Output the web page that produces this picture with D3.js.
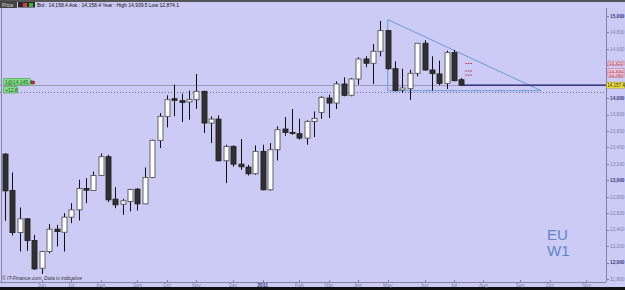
<!DOCTYPE html>
<html>
<head>
<meta charset="utf-8">
<script src="https://cdn.jsdelivr.net/npm/d3@7/dist/d3.min.js"></script>
<style>
  body { margin: 0; background: #cbcbf6; }
  svg { display: block; font-family: "Liberation Sans", Arial, sans-serif; }
</style>
</head>
<body>
<svg id="chart" width="625" height="290"></svg>
<script>
// weekly bars (week starting Monday), EU W1
const weeks = [
  "2010-05-03","2010-05-10","2010-05-17","2010-05-24","2010-05-31",
  "2010-06-07","2010-06-14","2010-06-21","2010-06-28",
  "2010-07-05","2010-07-12","2010-07-19","2010-07-26",
  "2010-08-02","2010-08-09","2010-08-16","2010-08-23","2010-08-30",
  "2010-09-06","2010-09-13","2010-09-20","2010-09-27",
  "2010-10-04","2010-10-11","2010-10-18","2010-10-25",
  "2010-11-01","2010-11-08","2010-11-15","2010-11-22","2010-11-29",
  "2010-12-06","2010-12-13","2010-12-20","2010-12-27",
  "2011-01-03","2011-01-10","2011-01-17","2011-01-24","2011-01-31",
  "2011-02-07","2011-02-14","2011-02-21","2011-02-28",
  "2011-03-07","2011-03-14","2011-03-21","2011-03-28",
  "2011-04-04","2011-04-11","2011-04-18","2011-04-25",
  "2011-05-02","2011-05-09","2011-05-16","2011-05-23","2011-05-30",
  "2011-06-06","2011-06-13","2011-06-20","2011-06-27",
  "2011-07-04","2011-07-11"
];
const opens = [
  13319,12877,12365,12532,12268, 11931,12134,12406,12369, 12552,12641,12901,12877,
  13059,13287,12771,12710,12743, 12893,12714,13035,13486, 13778,13993,13969,13953,
  13981,14082,13697,13745,13238, 13413,13197,13161,13080, 13352,12885,13372,13624,13583,
  13567,13514,13717,13827, 14001,13940,14172,14034, 14233,14476,14424,14570,
  14821,14358,14099,14115,14302, 14667,14342,14294,14180, 14553,14224
];
const highs = [
  13331,13096,12670,12540,12337, 12142,12467,12458,12601, 12722,13007,13027,13108,
  13327,13311,12917,12775,12897, 12905,13157,13494,13819, 14034,14164,14054,14091,
  14294,14091,13778,13790,13433, 13425,13502,13189,13425, 13433,13453,13656,13770,13867,
  13749,13730,13839,14022, 14042,14204,14253,14245, 14497,14509,14659,14939,
  14829,14448,14358,14346,14667, 14704,14509,14456,14578, 14586,14245
];
const lows = [
  12507,12329,12134,12142,11910, 11862,12113,12195,12134, 12479,12511,12722,12872,
  13055,12735,12661,12580,12621, 12633,12710,13027,13392, 13644,13778,13709,13737,
  13871,13575,13453,13230,12966, 13165,13128,13059,13067, 12880,12874,13242,13542,13555,
  13494,13433,13526,13749, 13758,13867,14022,14022, 14164,14375,14172,14509,
  14346,14082,14062,13977,14265, 14334,14091,14156,14111, 14204,14147
];
const closes = [
  12872,12365,12532,12268,11923, 12134,12406,12377,12552, 12641,12901,12880,13059,
  13287,12763,12702,12751,12889, 12714,13035,13486,13778, 13981,13973,13948,13981,
  14082,13697,13745,13238,13413, 13197,13165,13080,13352, 12885,13372,13616,13583,13571,
  13514,13717,13754,14009, 13940,14172,14034,14233, 14476,14424,14570,14821,
  14358,14091,14123,14302,14667, 14342,14298,14180,14553, 14212,14157
];

const monthTicks = [
  "2010-06-07","2010-07-05","2010-08-02","2010-09-06","2010-10-04","2010-11-01","2010-12-06",
  "2011-01-03","2011-02-07","2011-03-07","2011-04-04","2011-05-02","2011-06-06","2011-07-04",
  "2011-08-01","2011-09-05","2011-10-03","2011-11-07"
];
const monthLabels = ["Jun","Jul","Aug","Sep","Oct","Nov","Dec","2011","Feb","Mar","Apr","May","Jun","Jul","Aug","Sep","Oct","Nov"];

const priceTicks = [11800,12000,12200,12400,12600,12800,13000,13200,13400,13600,13800,14000,14200,14400,14600,14800,15000];
const majorTicks = [12000,13000,14000,15000];

const bid = 14157.4;
const orderPrice = 14145.4;
const orderLabel = "1@14,145.4";
const orderPnl = "+12.8";
const dottedLevel = 14080;
const pendingLevels = [14422, 14330, 14280];
const triangle = [["2011-05-02",14955],["2011-05-02",14090],["2011-09-25",14090]];
const header = "Bid : 14,158.4  Ask : 14,158.4   Year : High 14,939.5  Low 12,874.1";

const parse = d3.timeParse("%Y-%m-%d");
const fmt = d3.format(",");

const svg = d3.select("#chart");
const plotRight = 606, plotBottom = 282, plotTop = 8;

const x = d3.scaleTime()
    .domain([parse("2010-05-03"), parse("2011-11-21")])
    .range([5, 5 + 81 * 7.36]);
const y = d3.scaleLinear()
    .domain([11800, 15000])
    .range([279, 15.9]);

const bars = weeks.map((w, i) => ({
  date: parse(w), o: opens[i], h: highs[i], l: lows[i], c: closes[i]
}));

// frame
svg.append("rect").attr("x", 0).attr("y", 0).attr("width", 625).attr("height", 290).attr("fill", "#cbcbf6");
svg.append("rect").attr("x", 0).attr("y", 0).attr("width", 625).attr("height", 2).attr("fill", "#555");
svg.append("rect").attr("x", 0).attr("y", 287).attr("width", 625).attr("height", 3).attr("fill", "#111");
svg.append("line").attr("x1", 1.5).attr("x2", 1.5).attr("y1", 2).attr("y2", plotBottom)
    .attr("stroke", "#8888aa").attr("stroke-width", 1);

// right price axis
svg.append("line").attr("x1", plotRight + 0.5).attr("x2", plotRight + 0.5)
    .attr("y1", plotTop).attr("y2", plotBottom).attr("stroke", "#8080a8");
const yAxis = svg.append("g");
yAxis.selectAll("line").data(priceTicks).enter().append("line")
    .attr("x1", plotRight).attr("x2", plotRight + 3)
    .attr("y1", d => Math.round(y(d)) + 0.5).attr("y2", d => Math.round(y(d)) + 0.5)
    .attr("stroke", "#8080a8");
// labels hidden behind the price boxes are left out
const boxed = pendingLevels.concat([bid]);
const visibleTicks = priceTicks.filter(t => !boxed.some(b => Math.abs(y(b) - y(t)) < 4.5));
yAxis.selectAll("text").data(visibleTicks).enter().append("text")
    .attr("x", plotRight + 4).attr("y", d => y(d) + 1.8)
    .attr("font-size", 5)
    .attr("textLength", 14.5).attr("lengthAdjust", "spacingAndGlyphs")
    .attr("font-weight", d => majorTicks.includes(d) ? "bold" : "normal")
    .attr("fill", d => majorTicks.includes(d) ? "#3a3a7a" : "#8080aa")
    .text(d => fmt(d));

// bottom time axis
svg.append("line").attr("x1", 0).attr("x2", plotRight)
    .attr("y1", plotBottom + 0.5).attr("y2", plotBottom + 0.5).attr("stroke", "#8080a8");
const xAxis = svg.append("g");
xAxis.selectAll("line").data(monthTicks).enter().append("line")
    .attr("x1", d => Math.round(x(parse(d))) + 0.5).attr("x2", d => Math.round(x(parse(d))) + 0.5)
    .attr("y1", plotBottom - 2).attr("y2", plotBottom + 1).attr("stroke", "#8080a8");
xAxis.selectAll("text").data(monthTicks).enter().append("text")
    .attr("x", d => x(parse(d))).attr("y", 286.6)
    .attr("text-anchor", "middle").attr("font-size", 5)
    .attr("font-weight", (d, i) => monthLabels[i] === "2011" ? "bold" : "normal")
    .attr("fill", (d, i) => monthLabels[i] === "2011" ? "#3a3a7a" : "#8080aa")
    .text((d, i) => monthLabels[i]);

// level lines
svg.append("line").attr("x1", 0).attr("x2", plotRight)
    .attr("y1", Math.round(y(orderPrice)) - 0.5).attr("y2", Math.round(y(orderPrice)) - 0.5)
    .attr("stroke", "#9a9ab8").attr("stroke-width", 1);
svg.append("line").attr("x1", 0).attr("x2", plotRight)
    .attr("y1", Math.round(y(dottedLevel)) + 0.5).attr("y2", Math.round(y(dottedLevel)) + 0.5)
    .attr("stroke", "#7070a0").attr("stroke-width", 1).attr("stroke-dasharray", "1,2");

// triangle
svg.append("path")
    .attr("d", d3.line().x(d => x(parse(d[0]))).y(d => y(d[1]))(triangle) + "Z")
    .attr("fill", "none").attr("stroke", "#6a9ad8").attr("stroke-width", 1);

// candles
const last = bars[bars.length - 1];
svg.append("line").attr("x1", x(last.date) + 2).attr("x2", plotRight)
    .attr("y1", y(bid)).attr("y2", y(bid))
    .attr("stroke", "#1a1a70").attr("stroke-width", 1.3);

const candles = svg.append("g").selectAll("g").data(bars).enter().append("g");
candles.append("line")
    .attr("x1", d => Math.round(x(d.date)) + 0.5).attr("x2", d => Math.round(x(d.date)) + 0.5)
    .attr("y1", d => y(d.h)).attr("y2", d => y(d.l))
    .attr("stroke", "#111").attr("stroke-width", 1);
candles.append("rect")
    .attr("x", d => Math.round(x(d.date)) - 2)
    .attr("width", 5)
    .attr("y", d => y(Math.max(d.o, d.c)))
    .attr("height", d => Math.max(1, y(Math.min(d.o, d.c)) - y(Math.max(d.o, d.c))))
    .attr("fill", d => d.c >= d.o ? "#ffffff" : "#303030")
    .attr("stroke", d => d.c >= d.o ? "#555" : "#222")
    .attr("stroke-width", 0.9);

// pending order marks
svg.selectAll(".pend").data(pendingLevels).enter().append("line")
    .attr("x1", x(last.date) + 4).attr("x2", x(last.date) + 11)
    .attr("y1", d => y(d)).attr("y2", d => y(d))
    .attr("stroke", "#c02040").attr("stroke-width", 1).attr("stroke-dasharray", "1.5,1");

// price boxes on the axis
const boxes = svg.append("g");
pendingLevels.forEach(p => {
  boxes.append("rect").attr("x", plotRight + 2).attr("y", y(p) - 2.3).attr("width", 16).attr("height", 4.6)
      .attr("fill", "#f0d0e0").attr("stroke", "#c06080").attr("stroke-width", 0.5);
  boxes.append("text").attr("x", plotRight + 3).attr("y", y(p) + 1.6).attr("font-size", 4.4)
      .attr("textLength", 14).attr("lengthAdjust", "spacingAndGlyphs")
      .attr("fill", "#a01030").text(fmt(p));
});
boxes.append("rect").attr("x", plotRight + 0.5).attr("y", y(bid) - 3).attr("width", 18).attr("height", 6)
    .attr("fill", "#f2e23a").attr("stroke", "#a09020").attr("stroke-width", 0.5);
boxes.append("text").attr("x", plotRight + 1.2).attr("y", y(bid) + 1.7).attr("font-size", 4.5)
    .attr("fill", "#222").text(d3.format(",.1f")(bid));

// order labels on the left
svg.append("rect").attr("x", 3.5).attr("y", 78.5).attr("width", 27).attr("height", 6.5)
    .attr("rx", 1).attr("fill", "#86e086").attr("stroke", "#3a9a3a").attr("stroke-width", 0.6);
svg.append("text").attr("x", 5).attr("y", 83.5).attr("font-size", 5).attr("fill", "#1c5a1c").text(orderLabel);
svg.append("rect").attr("x", 31.5).attr("y", 81).attr("width", 3).attr("height", 3)
    .attr("fill", "#c03030").attr("stroke", "#601010").attr("stroke-width", 0.4);
svg.append("rect").attr("x", 3.5).attr("y", 86.5).attr("width", 14).attr("height", 6.5)
    .attr("rx", 1).attr("fill", "#86e086").attr("stroke", "#3a9a3a").attr("stroke-width", 0.6);
svg.append("text").attr("x", 5).attr("y", 91.5).attr("font-size", 5).attr("fill", "#1c5a1c").text(orderPnl);

// header strip
svg.append("rect").attr("x", 0).attr("y", 1).attr("width", 17).attr("height", 7).attr("fill", "#444");
svg.append("text").attr("x", 2).attr("y", 6.5).attr("font-size", 5).attr("fill", "#ddd").text("Price");
svg.append("rect").attr("x", 18).attr("y", 2).attr("width", 17).attr("height", 5.5).attr("fill", "#2a2a2a");
svg.append("rect").attr("x", 23).attr("y", 3).attr("width", 4).attr("height", 4).attr("fill", "#d04040");
svg.append("rect").attr("x", 29).attr("y", 3).attr("width", 4).attr("height", 4).attr("fill", "#40b040");
svg.append("text").attr("x", 37).attr("y", 6.8).attr("font-size", 5).attr("fill", "#111").text(header);

// watermark + copyright
svg.append("text").attr("x", 547).attr("y", 240).attr("font-size", 15).attr("fill", "#5f86c8").text("EU");
svg.append("text").attr("x", 547).attr("y", 256).attr("font-size", 15).attr("fill", "#5f86c8").text("W1");
svg.append("text").attr("x", 2).attr("y", 280).attr("font-size", 5).attr("font-style", "italic")
    .attr("fill", "#333").text("© IT-Finance.com. Data is indicative");
</script>
</body>
</html>
